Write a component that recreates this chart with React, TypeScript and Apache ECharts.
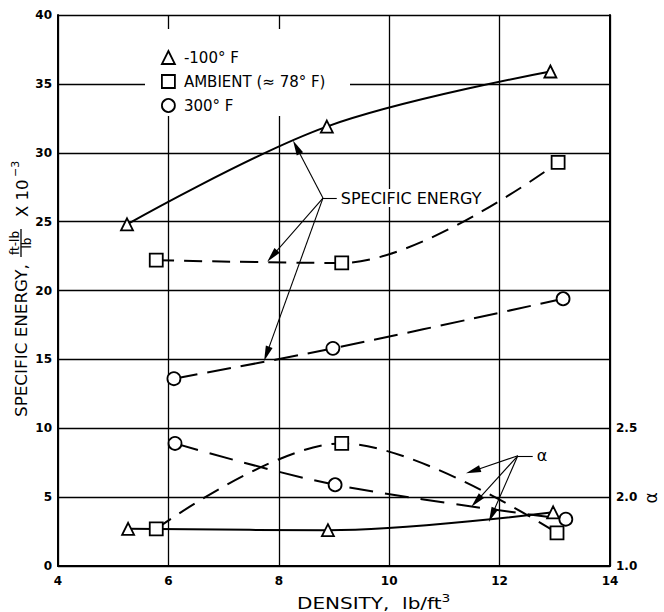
import React, { useEffect, useRef } from "react";
import * as echarts from "echarts";

// ---- Data ----
const legendNames = ["-100° F", "AMBIENT (≈ 78° F)", "300° F"];

// Specific energy (ft-lb/lb x 10^-3) vs density (lb/ft^3)
const densityColdSE = [5.25, 8.87, 12.92];
const energyCold = [24.8, 31.9, 35.9];
const densityAmbientSE = [5.78, 9.14, 13.06];
const energyAmbient = [22.2, 22.0, 29.3];
const densityHotSE = [6.1, 8.98, 13.15];
const energyHot = [13.6, 15.8, 19.4];

// alpha vs density (right axis)
const densityColdA = [5.27, 8.89, 12.97];
const alphaCold = [1.77, 1.76, 1.89];
const densityAmbientA = [5.78, 9.14, 13.04];
const alphaAmbient = [1.77, 2.39, 1.74];
const densityHotA = [6.12, 9.02, 13.2];
const alphaHot = [2.39, 2.09, 1.84];

// axis ticks
const xMin = 4, xMax = 14, xStep = 2;
const yMin = 0, yMax = 40, yStep = 5;
const aMin = 1.5, aMax = 5.5, aStep = 0.5;
// right-axis labels as printed on the reference
const alphaTickLabels: Record<string, string> = { "1.5": "1.0", "2": "2.0", "2.5": "2.5" };

// annotation anchor points (data coordinates)
const seHub = [8.8, 26.71];
const seHubEnd = [9.05, 26.71];
const seTargets = [[8.32, 30.4], [7.88, 22.5], [7.78, 15.4]];
const aHub = [12.33, 2.3];
const aHubEnd = [12.6, 2.3];
const aTargets = [[11.52, 2.19], [11.58, 1.97], [11.86, 1.87]];

const FONT = "DejaVu Sans";
const ARROW = "path://M5,0 L10,21 L0,21 Z";

function pairs(xs: number[], ys: number[]) {
  return xs.map((x, i) => [x, ys[i]]);
}

const markerStyle = { color: "#fff", borderColor: "#000", borderWidth: 1.8 };

function arrowLines(hub: number[], hubEnd: number[], targets: number[][], text: string) {
  const data: any[] = targets.map((t) => [{ coord: hub }, { coord: t }]);
  const lbl = {
    show: true,
    position: "end",
    formatter: text,
    color: "#000",
    fontFamily: FONT,
    fontSize: 16,
    backgroundColor: "#fff",
    padding: [1, 2],
    distance: 2,
  };
  data.push([
    { coord: hub, symbol: "none", label: lbl },
    { coord: hubEnd, symbol: "none", label: lbl },
  ]);
  return {
    silent: true,
    animation: false,
    symbol: ["none", ARROW],
    symbolSize: 15,
    symbolKeepAspect: true,
    itemStyle: { color: "#000" },
    lineStyle: { color: "#000", width: 1.1, type: "solid" },
    label: { show: false },
    emphasis: { disabled: true },
    data,
  };
}

function lineSeries(
  name: string,
  data: number[][],
  symbol: string,
  size: number,
  dash: any,
  yAxisIndex: number,
  extra: any = {}
) {
  return {
    type: "line",
    name,
    data,
    yAxisIndex,
    symbol,
    symbolSize: size,
    showSymbol: true,
    smooth: 0.35,
    itemStyle: markerStyle,
    lineStyle: { color: "#000", width: 2, type: dash },
    emphasis: { disabled: true },
    z: 3,
    ...extra,
  };
}

export default function App() {
  const ref = useRef<HTMLDivElement>(null);
  useEffect(() => {
    if (!ref.current) return;
    const chart = echarts.init(ref.current, null, { renderer: "svg" });
    const option: any = {
      animation: false,
      backgroundColor: "#fff",
      grid: { left: 58, right: 54, top: 15, bottom: 46 },
      legend: {
        orient: "vertical",
        left: 156,
        top: 45,
        itemWidth: 13,
        itemHeight: 13,
        itemGap: 9,
        selectedMode: false,
        textStyle: { fontFamily: FONT, fontSize: 15, color: "#000", padding: [0, 0, 0, 4] },
        data: [
          { name: legendNames[0], icon: "triangle", itemStyle: markerStyle },
          { name: legendNames[1], icon: "rect", itemStyle: markerStyle },
          { name: legendNames[2], icon: "circle", itemStyle: markerStyle },
        ],
      },
      xAxis: {
        type: "value",
        min: xMin,
        max: xMax,
        interval: xStep,
        axisLine: { show: true, lineStyle: { color: "#000", width: 2 } },
        axisTick: { show: false },
        axisLabel: { color: "#000", fontFamily: FONT, fontSize: 12, margin: 9, fontWeight: "bold" },
        splitLine: { show: true, lineStyle: { color: "#000", width: 1.3 } },
      },
      yAxis: [
        {
          type: "value",
          min: yMin,
          max: yMax,
          interval: yStep,
          axisLine: { show: true, lineStyle: { color: "#000", width: 2 } },
          axisTick: { show: false },
          axisLabel: { color: "#000", fontFamily: FONT, fontSize: 12, margin: 6, fontWeight: "bold" },
          splitLine: { show: true, lineStyle: { color: "#000", width: 1.3 } },
        },
        {
          type: "value",
          position: "right",
          min: aMin,
          max: aMax,
          interval: aStep,
          axisLine: { show: true, lineStyle: { color: "#000", width: 2 } },
          axisTick: { show: false },
          splitLine: { show: false },
          axisLabel: {
            color: "#000",
            fontFamily: FONT,
            fontSize: 12,
            margin: 6,
            fontWeight: "bold",
            formatter: (v: number) => alphaTickLabels[String(v)] ?? "",
          },
        },
      ],
      series: [
        lineSeries(legendNames[0], pairs(densityColdSE, energyCold), "triangle", 12, "solid", 0, {
          markLine: arrowLines(seHub, seHubEnd, seTargets, "SPECIFIC ENERGY"),
        }),
        lineSeries(legendNames[1], pairs(densityAmbientSE, energyAmbient), "rect", 13, [18, 10], 0),
        lineSeries(legendNames[2], pairs(densityHotSE, energyHot), "circle", 13, [24, 10], 0),
        lineSeries(legendNames[0], pairs(densityColdA, alphaCold), "triangle", 12, "solid", 1, {
          markLine: arrowLines(aHub, aHubEnd, aTargets, "α"),
        }),
        lineSeries(legendNames[1], pairs(densityAmbientA, alphaAmbient), "rect", 13, [18, 10], 1),
        lineSeries(legendNames[2], pairs(densityHotA, alphaHot), "circle", 13, [24, 12], 1),
      ],
      graphic: {
        elements: [
          {
            type: "rect",
            z: 1,
            shape: { x: 145, y: 29, width: 205, height: 87 },
            style: { fill: "#fff" },
            silent: true,
          },
          {
            type: "group",
            x: 22,
            y: 417,
            rotation: Math.PI / 2,
            silent: true,
            children: [
              {
                type: "text",
                x: 0,
                y: 0,
                scaleX: 1.12,
                style: { text: "SPECIFIC ENERGY,", fontFamily: FONT, fontSize: 15, fill: "#000", align: "left", verticalAlign: "middle" },
              },
              {
                type: "text",
                x: 174,
                y: -7,
                style: { text: "ft-lb", fontFamily: FONT, fontSize: 12, fill: "#000", align: "center", verticalAlign: "middle" },
              },
              {
                type: "line",
                shape: { x1: 160, y1: -1, x2: 188, y2: -1 },
                style: { stroke: "#000", lineWidth: 1.3 },
              },
              {
                type: "text",
                x: 174,
                y: 5,
                style: { text: "lb", fontFamily: FONT, fontSize: 12, fill: "#000", align: "center", verticalAlign: "middle" },
              },
              {
                type: "text",
                x: 200,
                y: 1,
                scaleX: 1.1,
                style: { text: "X 10", fontFamily: FONT, fontSize: 15, fill: "#000", align: "left", verticalAlign: "middle" },
              },
              {
                type: "text",
                x: 240,
                y: -7,
                style: { text: "−3", fontFamily: FONT, fontSize: 11, fill: "#000", align: "left", verticalAlign: "middle" },
              },
            ],
          },
          {
            type: "text",
            x: 297,
            y: 603,
            scaleX: 1.25,
            silent: true,
            style: {
              text: "DENSITY,  lb/ft{sup|3}",
              fontFamily: FONT,
              fontSize: 16,
              fill: "#000",
              align: "left",
              verticalAlign: "middle",
              rich: { sup: { fontSize: 11, fontFamily: FONT, fill: "#000", padding: [0, 0, 9, 0] } },
            },
          },
          {
            type: "text",
            x: 651,
            y: 498,
            rotation: Math.PI / 2,
            silent: true,
            style: { text: "α", fontFamily: FONT, fontSize: 17, fill: "#000", align: "center", verticalAlign: "middle" },
          },
        ],
      },
    };
    chart.setOption(option);
    return () => chart.dispose();
  }, []);
  return <div ref={ref} style={{ width: 664, height: 612, position: "absolute", left: 0, top: 0 }} />;
}
